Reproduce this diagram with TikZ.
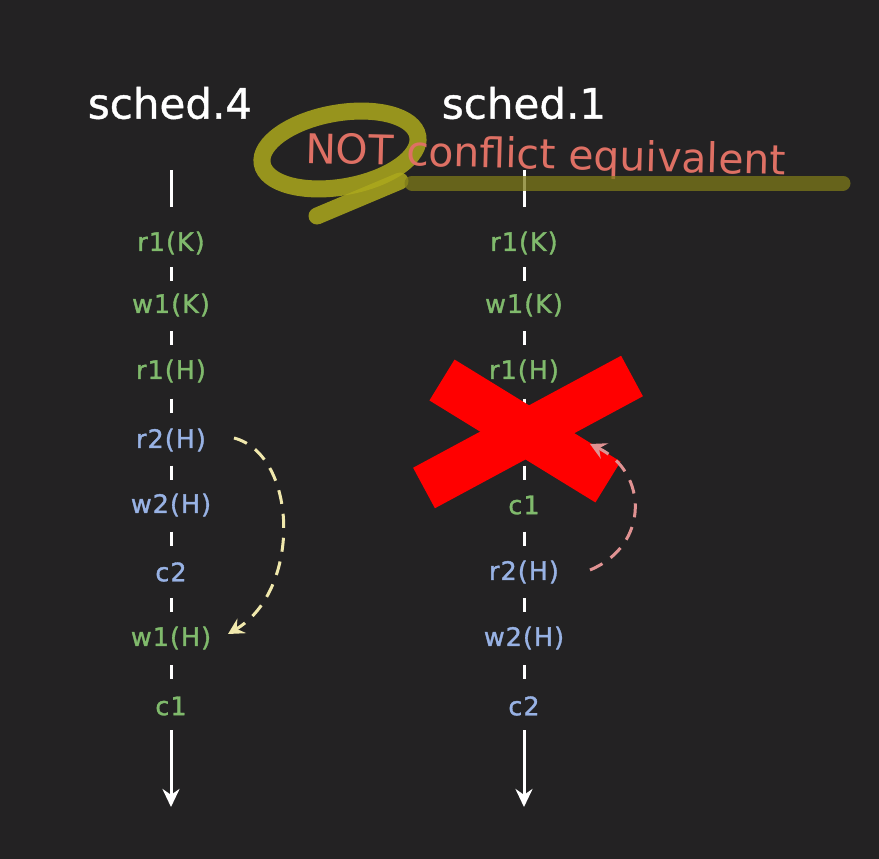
\documentclass[tikz,border=0pt]{standalone}
\usepackage{fontspec}
\setmainfont{DejaVu Sans}
\newfontfamily\labfont[LetterSpace=4,FakeBold=1.3]{DejaVu Sans}
\newfontfamily\ttlfont[FakeBold=1]{DejaVu Sans}
\usetikzlibrary{arrows.meta,calc}
\definecolor{bg}{RGB}{35,34,35}
\definecolor{tgreen}{RGB}{128,186,108}
\definecolor{tblue}{RGB}{152,178,228}
\definecolor{salmon}{RGB}{222,112,100}
\definecolor{olive}{RGB}{172,168,28}
\definecolor{darkolive}{RGB}{125,122,25}
\definecolor{paleyel}{RGB}{240,232,172}
\definecolor{pinkish}{RGB}{224,146,146}
\tikzset{
  lab/.style={font=\labfont\fontsize{25.5}{28}\selectfont, inner sep=0pt},
  g/.style={lab, text=tgreen},
  b/.style={lab, text=tblue},
  ttl/.style={font=\ttlfont\fontsize{42}{46}\selectfont, text=white, inner sep=0pt},
  seg/.style={draw=white, line width=3pt},
  tline/.style={draw=white, line width=3pt},
  tarrow/.style={draw=white, line width=3pt, -{Stealth[length=18pt,width=17pt]}},
  dasharr/.style={line width=3pt, dash pattern=on 14pt off 10pt, -{Stealth[length=16pt,width=17pt,inset=6pt]}},
  hl/.style={draw=olive, opacity=0.85, line width=17pt, line cap=round},
}
\begin{document}
\begin{tikzpicture}[x=1pt,y=-1pt]
\fill[bg] (0,0) rectangle (879,859);
\useasboundingbox (0,0) rectangle (879,859);

% titles
\node[ttl] (t4) at (170,103) {sched.4};
\node[ttl] (t1) at (524,103) {sched.1};

% left column
\coordinate (ltop) at (171,170);
\coordinate (ltopend) at (171,207);
\node[g] (l1) at (171,243) {r1(K)};
\node[g] (l2) at (171,305) {w1(K)};
\node[g] (l3) at (171,371) {r1(H)};
\node[b] (l4) at (171,440) {r2(H)};
\node[b] (l5) at (171,505) {w2(H)};
\node[b] (l6) at (171,572) {c2};
\node[g] (l7) at (171,638) {w1(H)};
\node[g] (l8) at (171,706) {c1};
\coordinate (lbot) at (171,807);

% right column
\coordinate (rtop) at (524,170);
\coordinate (rtopend) at (524,207);
\node[g] (r1) at (524,243) {r1(K)};
\node[g] (r2) at (524,305) {w1(K)};
\node[g] (r3) at (524,371) {r1(H)};
\node[g] (r4) at (524,440) {w1(H)};
\node[g] (r5) at (524,505) {c1};
\node[b] (r6) at (524,572) {r2(H)};
\node[b] (r7) at (524,638) {w2(H)};
\node[b] (r8) at (524,706) {c2};
\coordinate (rbot) at (524,807);

\draw[tline] (ltop) -- (ltopend);
\draw[tline] (rtop) -- (rtopend);
\foreach \a/\b in {1/2,2/3,3/4,4/5,5/6,6/7,7/8}{
  \draw[seg] ($(l\a)!0.5!(l\b)+(0,-7)$) -- ($(l\a)!0.5!(l\b)+(0,7)$);
  \draw[seg] ($(r\a)!0.5!(r\b)+(0,-7)$) -- ($(r\a)!0.5!(r\b)+(0,7)$);
}
\draw[tarrow] (171,730) -- (lbot);
\draw[tarrow] (524,730) -- (rbot);

% highlighter loop (under the text)
\draw[hl] (340,150) ellipse[x radius=79, y radius=37, rotate=10];
\draw[hl] (317,216) -- (400,181);

% annotation text
\node[font=\fontsize{41}{44}\selectfont, text=salmon, inner sep=0pt, anchor=base west, rotate=-1.4] (note) at (305,163) {NOT conflict equivalent};

% highlighter bar
\draw[draw=darkolive, opacity=0.75, line width=15pt, line cap=round] (412,183) -- (843,183);

% red cross
\coordinate (x1) at (442,380);
\coordinate (x2) at (608,482);
\coordinate (x3) at (632,376);
\coordinate (x4) at (424,488);
\draw[draw=red, line width=48pt] (x1) -- (x2);
\draw[draw=red, line width=46pt] (x3) -- (x4);

% dashed arrows
\coordinate (la) at (234,438);
\coordinate (lb) at (228,634);
\draw[dasharr, draw=paleyel] (la) .. controls (298,455) and (302,590) .. (lb);
\coordinate (ra) at (590,570);
\coordinate (rb) at (590,444);
\draw[dasharr, draw=pinkish] (ra) .. controls (650,545) and (648,472) .. (rb);
\end{tikzpicture}
\end{document}
